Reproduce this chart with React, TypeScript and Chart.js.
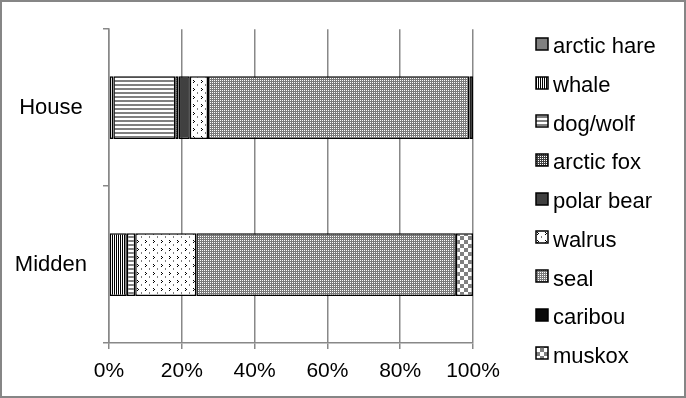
import React, { useEffect, useRef } from 'react';
import { Chart, registerables } from 'chart.js';

Chart.register(...registerables);

// ---- data ----
const categories = ['House', 'Midden'];
const species = ['arctic hare', 'whale', 'dog/wolf', 'arctic fox', 'polar bear', 'walrus', 'seal', 'caribou', 'muskox'];
const arcticHare = [0, 0];
const whale = [1.2, 4.9];
const dogWolf = [17.0, 2.3];
const arcticFox = [0.9, 0];
const polarBear = [3.1, 0];
const walrus = [5.0, 16.8];
const seal = [71.8, 71.3];
const caribou = [1.0, 0];
const muskox = [0, 4.7];
const xTickValues = [0, 20, 40, 60, 80, 100];

const FONT = '"Liberation Sans", Arial, sans-serif';

function tile(w: number, h: number, draw: (c: CanvasRenderingContext2D) => void): CanvasPattern | string {
  const cv = document.createElement('canvas');
  cv.width = w;
  cv.height = h;
  const c = cv.getContext('2d');
  if (!c) return '#808080';
  c.fillStyle = '#ffffff';
  c.fillRect(0, 0, w, h);
  draw(c);
  const p = c.createPattern(cv, 'repeat');
  return p || '#808080';
}

function px(c: CanvasRenderingContext2D, col: string, pts: number[][]) {
  c.fillStyle = col;
  pts.forEach(([x, y]) => c.fillRect(x, y, 1, 1));
}

function makeFills() {
  const hare = '#808080';
  const whaleP = tile(2, 1, (c) => px(c, '#000', [[0, 0]]));
  const dogP = tile(1, 4, (c) => { c.fillStyle = '#808080'; c.fillRect(0, 0, 1, 2); });
  const foxP = tile(2, 2, (c) => { c.fillStyle = '#404040'; c.fillRect(0, 0, 2, 2); px(c, '#ffffff', [[0, 0]]); });
  const bear = '#404040';
  const walrusP = tile(8, 8, (c) => {
    px(c, '#000', [[1, 0], [2, 1], [1, 2]]);
    px(c, '#808080', [[5, 4], [5, 5]]);
  });
  const sealP = tile(2, 2, (c) => { c.fillStyle = '#7a7a7a'; c.fillRect(0, 0, 2, 2); px(c, '#ffffff', [[0, 0]]); });
  const cari = '#0a0a0a';
  const muskP = tile(8, 8, (c) => { c.fillStyle = '#808080'; c.fillRect(0, 0, 4, 4); c.fillRect(4, 4, 4, 4); });
  return [hare, whaleP, dogP, foxP, bear, walrusP, sealP, cari, muskP];
}

const legendPlugin = {
  id: 'customLegendFrame',
  afterDraw(chart: any) {
    const ctx: CanvasRenderingContext2D = chart.ctx;
    ctx.save();
    chart.data.datasets.forEach((ds: any, i: number) => {
      const base = 53.3 + i * 38.7;
      const bx = 536;
      const by = Math.round(base - 15.5);
      ctx.fillStyle = ds.backgroundColor;
      ctx.fillRect(bx, by, 12, 12);
      ctx.strokeStyle = '#000';
      ctx.lineWidth = 1.5;
      ctx.strokeRect(bx, by, 12, 12);
      ctx.fillStyle = '#000';
      ctx.font = '22px ' + FONT;
      ctx.textBaseline = 'alphabetic';
      ctx.textAlign = 'left';
      ctx.fillText(ds.label, 553, base);
    });
    ctx.strokeStyle = '#868686';
    ctx.lineWidth = 2;
    ctx.strokeRect(1, 1, chart.width - 2, chart.height - 2);
    ctx.restore();
  },
};

export default function App() {
  const ref = useRef<HTMLCanvasElement>(null);
  useEffect(() => {
    if (!ref.current) return;
    const fills = makeFills();
    const series = [arcticHare, whale, dogWolf, arcticFox, polarBear, walrus, seal, caribou, muskox];
    const chart = new Chart(ref.current, {
      type: 'bar',
      data: {
        labels: categories,
        datasets: series.map((d, i) => ({
          label: species[i],
          data: d,
          backgroundColor: fills[i] as any,
          borderColor: '#000',
          borderWidth: 1.5,
          borderSkipped: false,
          barPercentage: 0.5,
          categoryPercentage: 0.8,
        })),
      },
      options: {
        indexAxis: 'y',
        responsive: false,
        animation: false,
        devicePixelRatio: 1,
        layout: { padding: { top: 25, right: 213, left: 0, bottom: 0 } },
        plugins: { legend: { display: false }, tooltip: { enabled: false } },
        scales: {
          x: {
            type: 'linear',
            stacked: true,
            min: 0,
            max: 100,
            afterBuildTicks: (s: any) => { s.ticks = xTickValues.map((v) => ({ value: v })); },
            afterFit: (s: any) => { s.height = 55; },
            grid: { color: '#888888', lineWidth: 1.5, tickLength: 6, drawTicks: true },
            border: { color: '#888888', width: 1.5 },
            ticks: {
              padding: 10,
              color: '#000',
              font: { size: 21, family: FONT },
              callback: (v: any) => v + '%',
            },
          },
          y: {
            stacked: true,
            afterFit: (s: any) => { s.width = 109; },
            grid: { offset: true, drawOnChartArea: false, color: '#888888', lineWidth: 1.5, tickLength: 6 },
            border: { color: '#888888', width: 1.5 },
            ticks: {
              padding: 16,
              crossAlign: 'center',
              color: '#000',
              font: { size: 22, family: FONT },
            },
          },
        },
      },
      plugins: [legendPlugin],
    });
    return () => chart.destroy();
  }, []);
  return (
    <div style={{ position: 'absolute', left: 0, top: 0, width: 686, height: 398, background: '#fff' }}>
      <canvas ref={ref} width={686} height={398} style={{ display: 'block' }} />
    </div>
  );
}
